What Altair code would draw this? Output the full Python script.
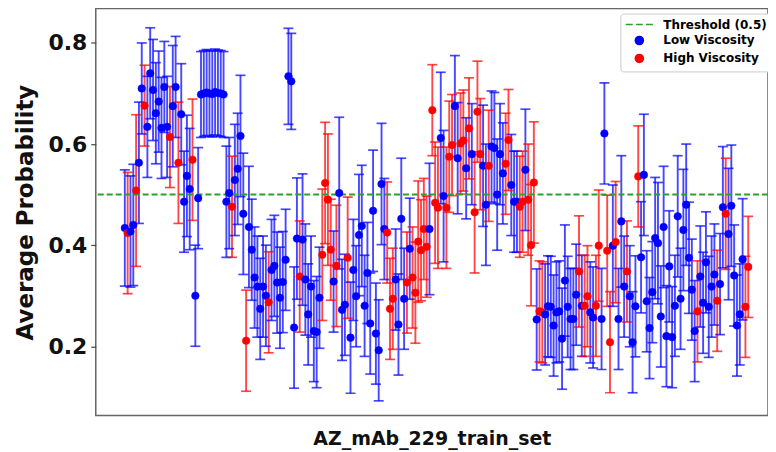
import altair as alt
import pandas as pd

# Average probability per sample (left to right)
values = [
    0.434, 0.424, 0.427, 0.44, 0.508, 0.563, 0.71, 0.676, 0.634, 0.74,
    0.707, 0.661, 0.684, 0.632, 0.713, 0.634, 0.614, 0.675, 0.713, 0.563,
    0.659, 0.486, 0.537, 0.511, 0.569, 0.30, 0.493, 0.698, 0.700, 0.702,
    0.700, 0.699, 0.703, 0.701, 0.700, 0.698, 0.486, 0.503, 0.476, 0.529,
    0.551, 0.616, 0.462, 0.211, 0.436, 0.391, 0.336, 0.318, 0.274, 0.318,
    0.30, 0.287, 0.351, 0.359, 0.326, 0.296, 0.327, 0.371, 0.734, 0.724,
    0.237, 0.413, 0.338, 0.411, 0.332, 0.263, 0.318, 0.230, 0.228, 0.296,
    0.381, 0.523, 0.49, 0.391, 0.328, 0.359, 0.503, 0.272, 0.282, 0.375,
    0.217, 0.351, 0.299, 0.42, 0.438, 0.28, 0.345, 0.245, 0.468, 0.225,
    0.192, 0.521, 0.432, 0.425, 0.274, 0.294, 0.332, 0.243, 0.452, 0.294,
    0.326, 0.393, 0.336, 0.306, 0.407, 0.39, 0.432, 0.397, 0.432, 0.667,
    0.484, 0.474, 0.612, 0.497, 0.474, 0.575, 0.598, 0.675, 0.572, 0.601,
    0.607, 0.552, 0.631, 0.58, 0.465, 0.664, 0.58, 0.557, 0.48, 0.557,
    0.595, 0.592, 0.50, 0.58, 0.542, 0.561, 0.608, 0.519, 0.486, 0.486,
    0.476, 0.486, 0.549, 0.49, 0.40, 0.524, 0.253, 0.269, 0.267, 0.263,
    0.279, 0.278, 0.241, 0.267, 0.269, 0.215, 0.330, 0.278, 0.254, 0.254,
    0.302, 0.348, 0.28, 0.28, 0.299, 0.267, 0.257, 0.28, 0.399, 0.254,
    0.621, 0.389, 0.208, 0.399, 0.406, 0.254, 0.447, 0.318, 0.348, 0.299,
    0.208, 0.279, 0.536, 0.376, 0.539, 0.289, 0.236, 0.307, 0.414, 0.404,
    0.259, 0.436, 0.220, 0.358, 0.218, 0.28, 0.457, 0.294, 0.43, 0.48,
    0.375, 0.312, 0.230, 0.269, 0.338, 0.286, 0.366, 0.278, 0.318, 0.342,
    0.29, 0.323, 0.475, 0.462, 0.422, 0.478, 0.34, 0.241, 0.263, 0.372,
    0.278, 0.357,
]

# Error (half-width of the error bar) per sample
errors = [
    0.115, 0.12, 0.11, 0.12, 0.15, 0.12, 0.09, 0.08, 0.1, 0.09,
    0.1, 0.1, 0.1, 0.1, 0.09, 0.1, 0.1, 0.12, 0.1, 0.12,
    0.1, 0.1, 0.12, 0.12, 0.12, 0.1, 0.1, 0.085, 0.085, 0.085,
    0.085, 0.085, 0.085, 0.085, 0.085, 0.085, 0.11, 0.11, 0.1, 0.11,
    0.11, 0.12, 0.12, 0.1, 0.12, 0.1, 0.1, 0.1, 0.1, 0.1,
    0.1, 0.1, 0.1, 0.1, 0.1, 0.1, 0.1, 0.1, 0.095, 0.095,
    0.12, 0.12, 0.11, 0.13, 0.11, 0.1, 0.1, 0.1, 0.11, 0.1,
    0.13, 0.12, 0.13, 0.1, 0.1, 0.12, 0.15, 0.1, 0.1, 0.12,
    0.11, 0.1, 0.1, 0.12, 0.12, 0.1, 0.1, 0.1, 0.12, 0.1,
    0.1, 0.12, 0.1, 0.1, 0.1, 0.1, 0.1, 0.1, 0.12, 0.1,
    0.1, 0.1, 0.1, 0.1, 0.12, 0.1, 0.1, 0.1, 0.13, 0.09,
    0.12, 0.12, 0.13, 0.13, 0.12, 0.11, 0.1, 0.1, 0.11, 0.1,
    0.1, 0.1, 0.1, 0.1, 0.12, 0.1, 0.11, 0.12, 0.12, 0.11,
    0.11, 0.11, 0.11, 0.1, 0.1, 0.1, 0.1, 0.1, 0.1, 0.1,
    0.1, 0.1, 0.12, 0.11, 0.12, 0.12, 0.1, 0.1, 0.1, 0.1,
    0.1, 0.1, 0.1, 0.1, 0.1, 0.1, 0.11, 0.1, 0.1, 0.1,
    0.1, 0.11, 0.1, 0.1, 0.1, 0.1, 0.1, 0.1, 0.11, 0.1,
    0.1, 0.11, 0.1, 0.12, 0.12, 0.1, 0.13, 0.1, 0.1, 0.1,
    0.1, 0.1, 0.1, 0.11, 0.12, 0.1, 0.1, 0.1, 0.12, 0.12,
    0.1, 0.12, 0.1, 0.11, 0.1, 0.1, 0.12, 0.1, 0.12, 0.12,
    0.11, 0.1, 0.1, 0.1, 0.1, 0.1, 0.1, 0.1, 0.1, 0.1,
    0.1, 0.1, 0.12, 0.11, 0.13, 0.12, 0.1, 0.1, 0.1, 0.12,
    0.1, 0.1,
]

# Class per sample: B = Low Viscosity, R = High Viscosity
group_codes = (
    "BRBBRBBRBB" "BBBBBBRBBR" "BBBBRBBBBB" "BBBBBBBBRB" "BBBRBBBBBB"
    "BRBBBBBBBB" "BBRBBBBBBB" "RRRRBRBBBR" "BBBBBBBBBB" "BBBRRRBBBB"
    "RBRRRRRRBR" "RRBBRRRBBR" "RBRBRRRBBR" "BBBBBRRBBB" "RRBRRRBRRB"
    "BBBBBBBBBB" "BRBRRBBRRB" "BRRBRBBBRB" "BBRBBBBBBB" "BBBBBBBBBB"
    "BBBRBBBBBB" "RBBRBBBBBB" "RR"
)

threshold = [0.5]
legend_labels = ["Threshold (0.5)", "Low Viscosity", "High Viscosity"]
legend_colors = ["#2ca02c", "#0000ff", "#ff0000"]
dash_symbol = "M-3.4,0H-1.65M-0.85,0H0.85M1.65,0H3.4"

names = {"B": "Low Viscosity", "R": "High Viscosity"}
n = min(len(values), len(errors), len(group_codes))
df = pd.DataFrame({
    "idx": list(range(n)),
    "value": values[:n],
    "err": errors[:n],
    "group": [names[c] for c in group_codes[:n]],
})
df["lo"] = df["value"] - df["err"]
df["hi"] = df["value"] + df["err"]

xscale = alt.Scale(domain=[-10.3, 228], nice=False, zero=False)
yscale = alt.Scale(domain=[0.063, 0.868], nice=False, zero=False)

x_enc = alt.X("idx:Q", scale=xscale,
              axis=alt.Axis(title="AZ_mAb_229_train_set", labels=False, ticks=False,
                            domain=False, grid=False, titlePadding=14, titleFontSize=19))
bar_color = alt.Color("group:N", legend=None,
                      scale=alt.Scale(domain=["Low Viscosity", "High Viscosity"],
                                      range=["#0000ff", "#ff0000"]))

base = alt.Chart(df)

bars = base.mark_rule(strokeWidth=1.9, opacity=0.72).encode(
    x=x_enc,
    y=alt.Y("lo:Q", scale=yscale,
            axis=alt.Axis(title="Average Probability", values=[0.2, 0.4, 0.6, 0.8],
                          format=".1f", grid=False, domain=False,
                          titleFontSize=23, labelFontSize=22, titlePadding=10)),
    y2="hi:Q",
    color=bar_color,
)
caps_lo = base.mark_tick(orient="horizontal", size=10, thickness=1.7, opacity=0.72).encode(
    x="idx:Q", y="lo:Q", color=bar_color)
caps_hi = base.mark_tick(orient="horizontal", size=10, thickness=1.7, opacity=0.72).encode(
    x="idx:Q", y="hi:Q", color=bar_color)

legend = alt.Legend(title=None, orient="none", legendX=526, legendY=5,
                    labelFont="DejaVu Sans", labelFontWeight="bold", labelFontSize=12,
                    symbolSize=64, symbolStrokeWidth=1.6, labelOffset=18,
                    symbolOffset=8, rowPadding=2, padding=5,
                    strokeColor="#cccccc", fillColor="white", cornerRadius=3)
pscale_fill = alt.Scale(domain=legend_labels, range=legend_colors)
pscale_shape = alt.Scale(domain=legend_labels, range=[dash_symbol, "circle", "circle"])

points = base.mark_point(filled=True, size=58, strokeWidth=0.5, opacity=1).encode(
    x="idx:Q",
    y="value:Q",
    fill=alt.Fill("group:N", scale=pscale_fill, legend=legend),
    stroke=alt.Stroke("group:N", scale=pscale_fill, legend=legend),
    shape=alt.Shape("group:N", scale=pscale_shape, legend=legend),
)

rule = alt.Chart(pd.DataFrame({"t": threshold})).mark_rule(
    color="#2ca02c", strokeDash=[6, 3], strokeWidth=2
).encode(y="t:Q")

chart = alt.layer(bars, caps_lo, caps_hi, rule, points).properties(
    width=674, height=408,
    autosize=alt.AutoSizeParams(type="none"),
    padding={"left": 88, "top": 0, "right": 0, "bottom": 36},
).configure_view(
    stroke="#666666", strokeWidth=1.5
).configure_axis(
    labelFont="DejaVu Sans", labelFontWeight="bold", labelColor="#111",
    titleFont="DejaVu Sans", titleFontWeight="bold", titleColor="#111",
    tickColor="#444", tickSize=5, tickWidth=1.2, labelPadding=4,
)

chart.save("out.html", embed_options={"renderer": "svg", "actions": False})
